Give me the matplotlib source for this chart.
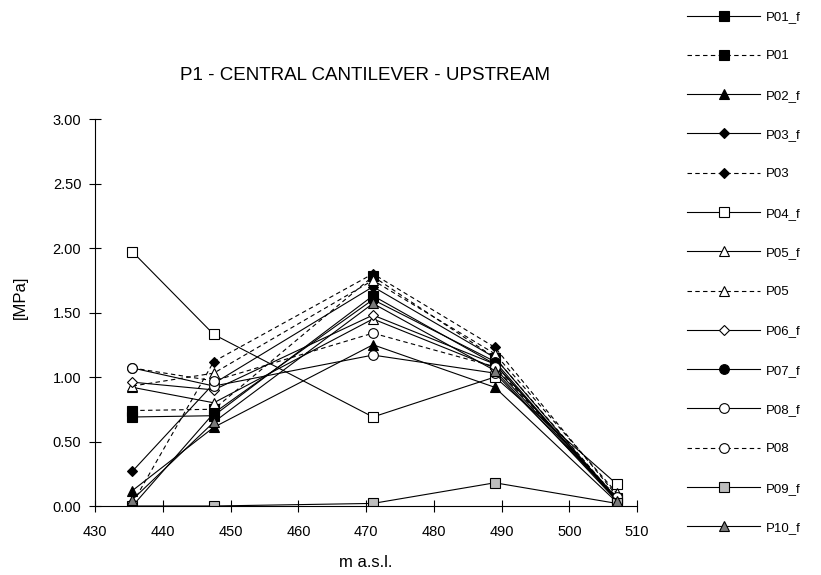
import numpy as np
import matplotlib
matplotlib.use('Agg')
from matplotlib import pyplot as plt

plt.rcParams['font.family'] = ['Liberation Sans', 'DejaVu Sans']

# elevations (m a.s.l.)
elev = [435.5, 447.5, 471, 489, 507]

# stresses [MPa], one list per gauge
P01_f = [0.69, 0.70, 1.63, 1.10, 0.05]
P01 = [0.74, 0.75, 1.78, 1.15, 0.06]
P02_f = [0.12, 0.61, 1.25, 0.92, 0.03]
P03_f = [0.27, 0.95, 1.70, 1.15, 0.05]
P03 = [0.02, 1.12, 1.80, 1.23, 0.08]
P04_f = [1.97, 1.33, 0.69, 1.00, 0.17]
P05_f = [0.92, 0.80, 1.45, 1.07, 0.05]
P05 = [0.93, 1.03, 1.75, 1.18, 0.10]
P06_f = [0.96, 0.90, 1.48, 1.10, 0.06]
P07_f = [0.00, 0.72, 1.60, 1.12, 0.04]
P08_f = [1.07, 0.93, 1.17, 1.03, 0.06]
P08 = [1.07, 0.97, 1.34, 1.08, 0.07]
P09_f = [0.00, 0.00, 0.02, 0.18, 0.02]
P10_f = [0.05, 0.65, 1.57, 1.05, 0.04]

names = ['P01_f', 'P01', 'P02_f', 'P03_f', 'P03', 'P04_f', 'P05_f', 'P05',
         'P06_f', 'P07_f', 'P08_f', 'P08', 'P09_f', 'P10_f']
values = [P01_f, P01, P02_f, P03_f, P03, P04_f, P05_f, P05,
          P06_f, P07_f, P08_f, P08, P09_f, P10_f]

# marker, face colour, dashed?
styles = {
    'P01_f': ('s', 'black', False),
    'P01': ('s', 'black', True),
    'P02_f': ('^', 'black', False),
    'P03_f': ('D', 'black', False),
    'P03': ('D', 'black', True),
    'P04_f': ('s', 'white', False),
    'P05_f': ('^', 'white', False),
    'P05': ('^', 'white', True),
    'P06_f': ('D', 'white', False),
    'P07_f': ('o', 'black', False),
    'P08_f': ('o', 'white', False),
    'P08': ('o', 'white', True),
    'P09_f': ('s', '#bdbdbd', False),
    'P10_f': ('^', '#7a7a7a', False),
}

fig = plt.figure(figsize=(8.21, 5.75), dpi=100)
ax = fig.add_axes([0.116, 0.120, 0.660, 0.673])

for name, vals in zip(names, values):
    mk, fc, dashed = styles[name]
    ms = 5 if mk == 'D' else 7
    ax.plot(elev, vals, color='black', lw=0.8,
            linestyle=(0, (4, 3)) if dashed else '-',
            marker=mk, markersize=ms, markerfacecolor=fc,
            markeredgecolor='black', markeredgewidth=0.8, label=name)

ax.set_xlim(430, 510)
ax.set_ylim(0, 3)
ax.set_xticks(np.arange(430, 511, 10))
ax.set_yticks(np.arange(0, 3.01, 0.5))
ax.set_yticklabels(['%.2f' % v for v in np.arange(0, 3.01, 0.5)])
ax.tick_params(direction='inout', length=8, width=0.8, labelsize=10.5)
ax.tick_params(axis='x', pad=10)
ax.tick_params(axis='y', pad=6)
ax.spines['top'].set_visible(False)
ax.spines['right'].set_visible(False)
ax.spines['left'].set_linewidth(0.8)
ax.spines['bottom'].set_linewidth(0.8)

ax.set_xlabel('m a.s.l.', fontsize=12, labelpad=11)
ax.set_ylabel('[MPa]', fontsize=12)
ax.yaxis.set_label_coords(-0.125, 0.54)
fig.text(0.445, 0.868, 'P1 - CENTRAL CANTILEVER - UPSTREAM', fontsize=13.5,
         ha='center', va='center')

fig.legend(loc='upper left', bbox_to_anchor=(0.825, 0.997), frameon=False,
           fontsize=9.5, handlelength=5.6, handletextpad=0.4,
           labelspacing=2.05, borderaxespad=0.3)

plt.savefig('out.png', dpi=100)
